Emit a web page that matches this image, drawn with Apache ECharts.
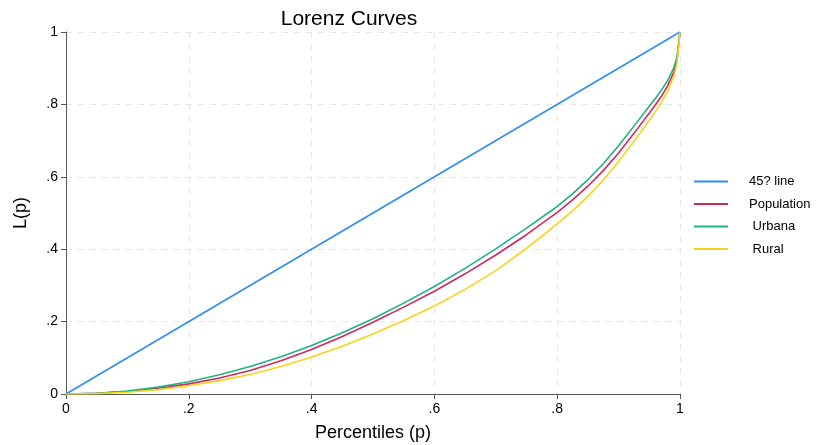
<!DOCTYPE html>
<html>
<head>
<meta charset="utf-8">
<script src="https://cdn.jsdelivr.net/npm/echarts@6/dist/echarts.min.js"></script>
<style>html,body{margin:0;padding:0;background:#fff}#c{width:820px;height:445px}</style>
</head>
<body>
<div id="c"></div>
<script>
const pctl = [0,0.05,0.1,0.15,0.2,0.25,0.3,0.35,0.4,0.45,0.5,0.55,0.6,0.65,0.7,0.75,0.8,0.825,0.85,0.875,0.9,0.925,0.95,0.96,0.97,0.98,0.99,0.995,1];
const urbana = [0,0.002,0.008,0.019,0.034,0.053,0.076,0.103,0.134,0.169,0.208,0.251,0.297,0.347,0.401,0.458,0.518,0.553,0.592,0.636,0.686,0.740,0.795,0.817,0.840,0.866,0.902,0.930,1];
const population = [0,0.002,0.007,0.016,0.028,0.044,0.065,0.092,0.123,0.159,0.198,0.240,0.284,0.332,0.384,0.440,0.502,0.536,0.574,0.617,0.666,0.720,0.776,0.799,0.823,0.852,0.890,0.921,1];
const rural = [0,0.001,0.005,0.012,0.023,0.037,0.054,0.076,0.102,0.132,0.166,0.203,0.243,0.289,0.341,0.402,0.470,0.506,0.546,0.591,0.642,0.698,0.756,0.780,0.806,0.837,0.878,0.912,1];
const equalityP = [0,1];
const equalityL = [0,1];
const tickLabels = {0:'0',0.2:'.2',0.4:'.4',0.6:'.6',0.8:'.8',1:'1'};
const names = ['45? line','Population',' Urbana',' Rural'];

const pairs = (xs, ys) => xs.map((x,i)=>[x, ys[i]]);
const fmt = v => { const k = Math.round(v*10)/10; return tickLabels[k] !== undefined ? tickLabels[k] : String(v); };
const font = 'Liberation Sans, Arial, sans-serif';

const chart = echarts.init(document.getElementById('c'));
const lineS = (name, data, color) => ({
  name, type:'line', data, symbol:'none', smooth:false,
  lineStyle:{width:1.6, color}, itemStyle:{color}
});
chart.setOption({
  animation:false,
  title:{text:'Lorenz Curves', left:344, top:4, textAlign:'center',
    textStyle:{fontFamily:font, fontSize:21, fontWeight:'normal', color:'#000'}},
  grid:{left:66, right:140, top:32, bottom:51, containLabel:false, outerBoundsMode:'none'},
  legend:{orient:'vertical', left:689, top:170, itemWidth:34, itemHeight:14, itemGap:9.5,
    icon:'path://M0,6L34,6L34,8L0,8Z',
    textStyle:{fontFamily:font, fontSize:13, color:'#000', padding:[0,0,0,16]},
    data:names},
  xAxis:{type:'value', min:0, max:1, interval:0.2,
    name:'Percentiles (p)', nameLocation:'middle', nameGap:30,
    nameTextStyle:{fontFamily:font, fontSize:18, color:'#000'},
    axisLine:{show:true, lineStyle:{color:'#555', width:1}},
    axisTick:{show:true, length:5, lineStyle:{color:'#555'}},
    axisLabel:{formatter:fmt, fontFamily:font, fontSize:14, color:'#000', margin:8},
    splitLine:{show:true, lineStyle:{color:'#e6e6e6', type:[6,6], width:1}}},
  yAxis:{type:'value', min:0, max:1, interval:0.2,
    name:'L(p)', nameLocation:'middle', nameGap:36,
    nameTextStyle:{fontFamily:font, fontSize:18, color:'#000'},
    axisLine:{show:true, lineStyle:{color:'#555', width:1}},
    axisTick:{show:true, length:5, lineStyle:{color:'#555'}},
    axisLabel:{formatter:fmt, fontFamily:font, fontSize:14, color:'#000', margin:8},
    splitLine:{show:true, lineStyle:{color:'#e6e6e6', type:[6,6], width:1}}},
  series:[
    lineS(names[0], pairs(equalityP, equalityL), '#2f8ef4'),
    lineS(names[1], pairs(pctl, population), '#d3285c'),
    lineS(names[2], pairs(pctl, urbana), '#1db484'),
    lineS(names[3], pairs(pctl, rural), '#f8d31c')
  ]
});
</script>
</body>
</html>
